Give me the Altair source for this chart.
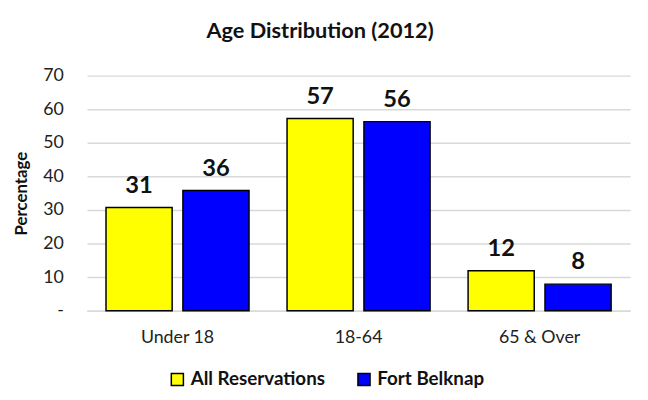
import altair as alt
import pandas as pd

categories = ["Under 18", "18-64", "65 & Over"]
series = ["All Reservations", "Fort Belknap"]
all_res = [30.7, 57.2, 11.9]
fort_belknap = [35.8, 56.3, 7.9]
labels_all = ["31", "57", "12"]
labels_fb = ["36", "56", "8"]
y_ticks = [0, 10, 20, 30, 40, 50, 60, 70]

rows = []
for i, c in enumerate(categories):
    rows.append({"cat": c, "series": series[0], "value": all_res[i], "label": labels_all[i]})
    rows.append({"cat": c, "series": series[1], "value": fort_belknap[i], "label": labels_fb[i]})
df = pd.DataFrame(rows)

FONT = "Lato"

x = alt.X("cat:N", sort=categories, title=None,
          scale=alt.Scale(paddingInner=0.21, paddingOuter=0.105),
          axis=alt.Axis(labelAngle=0, labelFontSize=18, labelColor="#222222", labelPadding=18,
                        ticks=False, domainColor="#d9d9d9", domainWidth=1.5, labelFont=FONT))
xo = alt.XOffset("series:N", sort=series, scale=alt.Scale(paddingInner=0.14, paddingOuter=0))
y = alt.Y("value:Q", title="Percentage",
          scale=alt.Scale(domain=[0, 70], nice=False),
          axis=alt.Axis(values=y_ticks,
                        labelExpr="datum.value == 0 ? '-' : datum.label",
                        labelOverlap=False,
                        labelFontSize=18, labelColor="#222222", labelPadding=24, ticks=False,
                        domain=False, gridColor="#d9d9d9", gridWidth=1.5,
                        titleFontSize=17, titleFontWeight="bold", titlePadding=12,
                        titleColor="#111111", labelFont=FONT, titleFont=FONT))

color = alt.Color("series:N", sort=series,
                  scale=alt.Scale(domain=series, range=["#FFFF00", "#0000FF"]),
                  legend=alt.Legend(title=None, orient="none", direction="horizontal",
                                    legendX=82, legendY=298, symbolType="square",
                                    symbolSize=150, symbolStrokeColor="black",
                                    symbolStrokeWidth=1.5, labelFontSize=19,
                                    labelFontWeight="bold", labelFont=FONT,
                                    labelColor="#111111", columnPadding=29, labelOffset=4,
                                    labelLimit=300))

bars = alt.Chart(df).mark_bar(stroke="black", strokeWidth=1.5).encode(
    x=x, xOffset=xo, y=y, color=color)

text = alt.Chart(df).mark_text(fontSize=24, fontWeight="bold", baseline="bottom", dy=-10,
                               font=FONT, color="#111111").encode(
    x=x, xOffset=xo, y=y, text="label:N")

chart = alt.layer(bars, text).properties(
    width=550, height=238,
    title=alt.TitleParams("Age Distribution (2012)", fontSize=22, fontWeight="bold",
                          font=FONT, color="#111111", offset=24, dx=-39),
    padding={"left": 80, "top": 66, "right": 10, "bottom": 88},
    autosize="none",
).configure_view(stroke=None)

chart.save("out.html", embed_options={"renderer": "svg", "actions": False})
